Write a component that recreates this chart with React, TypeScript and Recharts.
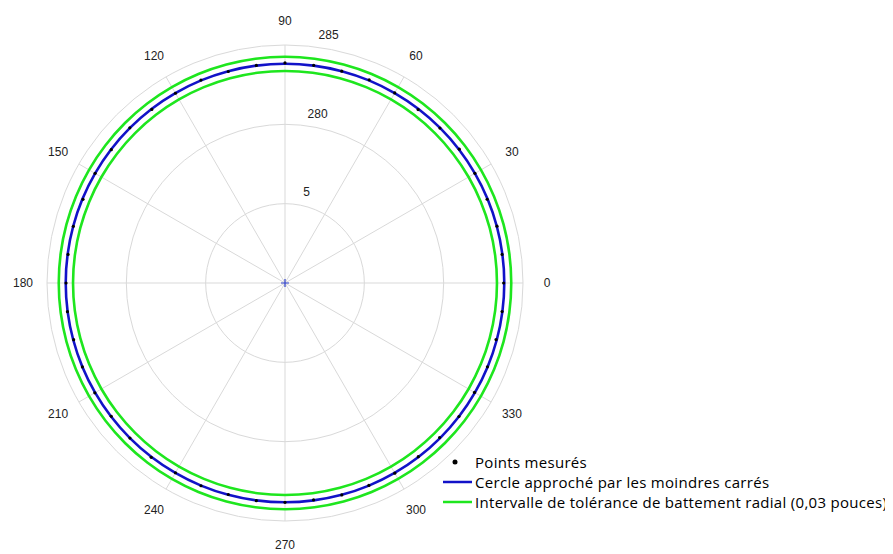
import React from 'react';
import { RadarChart, PolarGrid, PolarAngleAxis, PolarRadiusAxis, Radar, Legend } from 'recharts';

// Measurement angles (degrees) — one reading every 7.5°
const angles: number[] = [
  0, 7.5, 15, 22.5, 30, 37.5, 45, 52.5, 60, 67.5, 75, 82.5,
  90, 97.5, 105, 112.5, 120, 127.5, 135, 142.5, 150, 157.5, 165, 172.5,
  180, 187.5, 195, 202.5, 210, 217.5, 225, 232.5, 240, 247.5, 255, 262.5,
  270, 277.5, 285, 292.5, 300, 307.5, 315, 322.5, 330, 337.5, 345, 352.5,
];

// Measured radius at each angle
const measured: number[] = [
  283.78, 283.80, 283.83, 283.79, 283.82, 283.85, 283.81, 283.78, 283.83, 283.86, 283.82, 283.84,
  283.87, 283.83, 283.80, 283.84, 283.81, 283.79, 283.83, 283.80, 283.82, 283.78, 283.81, 283.79,
  283.80, 283.83, 283.79, 283.82, 283.84, 283.80, 283.82, 283.85, 283.81, 283.83, 283.80, 283.84,
  283.82, 283.79, 283.83, 283.81, 283.84, 283.80, 283.78, 283.82, 283.79, 283.81, 283.77, 283.80,
];

// Least-squares circle radius and radial runout tolerance band
const fittedRadius = 283.82;
const toleranceInner = 283.36;
const toleranceOuter = 284.26;

const angleTicks: number[] = [0, 30, 60, 90, 120, 150, 180, 210, 240, 270, 300, 330];
const radiusTicks: number[] = [270, 275, 280, 285];
const radiusTickLabels: string[] = ['', '5', '280', '285'];

const legendItems = [
  { label: 'Points mesurés', color: '#000000', kind: 'dot' },
  { label: 'Cercle approché par les moindres carrés', color: '#1212c8', kind: 'line' },
  { label: 'Intervalle de tolérance de battement radial (0,03 pouces)', color: '#1ee61e', kind: 'line' },
];

const rows = angles.map((a, i) => ({
  angle: a,
  measured: measured[i],
  fit: fittedRadius,
  tolIn: toleranceInner,
  tolOut: toleranceOuter,
}));

const axisFont = 'Liberation Sans, Arial, sans-serif';

// Closed Catmull-Rom spline through the scaled radar points
const smoothClosedPath = (pts: { x: number; y: number }[]) => {
  const n = pts.length;
  if (!n) return '';
  let d = `M${pts[0].x},${pts[0].y}`;
  for (let i = 0; i < n; i++) {
    const p0 = pts[(i - 1 + n) % n];
    const p1 = pts[i];
    const p2 = pts[(i + 1) % n];
    const p3 = pts[(i + 2) % n];
    const c1x = p1.x + (p2.x - p0.x) / 6;
    const c1y = p1.y + (p2.y - p0.y) / 6;
    const c2x = p2.x - (p3.x - p1.x) / 6;
    const c2y = p2.y - (p3.y - p1.y) / 6;
    d += `C${c1x},${c1y},${c2x},${c2y},${p2.x},${p2.y}`;
  }
  return d + 'Z';
};

const ringShape = (color: string) => (props: any) => (
  <path d={smoothClosedPath(props.points || [])} fill="none" stroke={color} strokeWidth={2.6} />
);

const measuredDot = (props: any) => {
  const { cx, cy, index } = props;
  return <circle key={`m-${index}`} cx={cx} cy={cy} r={1.6} fill="#000" />;
};

const AngleTick = (props: any) => {
  const { x, y, payload } = props;
  return (
    <text x={x} y={y} textAnchor="middle" dominantBaseline="central"
      style={{ fontFamily: axisFont, fontSize: 12 }} fill="#222">
      {payload.value}
    </text>
  );
};

const RadiusTick = (props: any) => {
  const { x, y, payload } = props;
  const idx = radiusTicks.indexOf(payload.value);
  if (payload.value === 270) {
    return (
      <path d={`M${x - 4},${y}H${x + 4}M${x},${y - 4}V${y + 4}`} stroke="#3344cc" strokeWidth={1.2} />
    );
  }
  return (
    <text x={x + 10.5} y={y - 12} textAnchor="middle" dominantBaseline="central"
      style={{ fontFamily: axisFont, fontSize: 12 }} fill="#222">
      {radiusTickLabels[idx]}
    </text>
  );
};

const LegendContent = () => (
  <div style={{ fontFamily: "'Open Sans', sans-serif", fontSize: 15, letterSpacing: 0.3, color: '#000' }}>
    {legendItems.map((item) => (
      <div key={item.label} style={{ display: 'flex', alignItems: 'center', height: 20, whiteSpace: 'nowrap' }}>
        <svg width={32} height={20} style={{ flex: 'none' }}>
          {item.kind === 'dot'
            ? <circle cx={12} cy={10} r={2.5} fill={item.color} />
            : <line x1={0} y1={10} x2={29} y2={10} stroke={item.color} strokeWidth={2.5} />}
        </svg>
        <span>{item.label}</span>
      </div>
    ))}
  </div>
);

export default function App() {
  return (
    <RadarChart width={885} height={546} data={rows} cx={277} cy={275}
      innerRadius={0} outerRadius={238} startAngle={0} endAngle={360}
      margin={{ top: 0, right: 0, bottom: 0, left: 0 }}>
      <PolarGrid gridType="circle" stroke="#d9d9d9" strokeWidth={1} />
      <PolarAngleAxis dataKey="angle" type="number" domain={[0, 360]} ticks={angleTicks}
        tickLine={false} tickSize={24} axisLine={false} tick={<AngleTick />} />
      <PolarRadiusAxis angle={82} type="number" domain={[270, 285]} ticks={radiusTicks}
        axisLine={false} tickLine={false} tick={<RadiusTick />} />
      <Radar dataKey="tolOut" stroke="#1ee61e" fill="none" dot={false}
        shape={ringShape('#1ee61e')} isAnimationActive={false} />
      <Radar dataKey="tolIn" stroke="#1ee61e" fill="none" dot={false}
        shape={ringShape('#1ee61e')} isAnimationActive={false} />
      <Radar dataKey="fit" stroke="#1212c8" fill="none" dot={false}
        shape={ringShape('#1212c8')} isAnimationActive={false} />
      <Radar dataKey="measured" stroke="none" fill="none" fillOpacity={0}
        dot={measuredDot} isAnimationActive={false} />
      <Legend content={<LegendContent />}
        wrapperStyle={{ position: 'absolute', left: 435, top: 444, width: 460, bottom: 'auto', right: 'auto' }} />
    </RadarChart>
  );
}
